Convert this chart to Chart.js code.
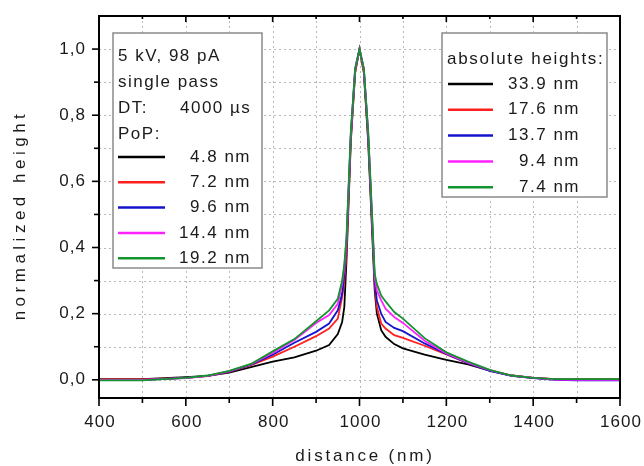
<!DOCTYPE html>
<html>
<head>
<meta charset="utf-8">
<script src="https://cdn.jsdelivr.net/npm/chart.js@4"></script>
<style>
  html, body { margin: 0; padding: 0; background: #fff; }
  #c { display: block; }
</style>
</head>
<body>
<canvas id="c" width="644" height="466"></canvas>
<script>
// distance axis (nm) shared by all profiles
const distanceNm = [400, 500, 600, 650, 700, 750, 800, 850, 900, 930, 950, 960, 965, 970, 980, 990, 1000,
  1010, 1020, 1030, 1035, 1040, 1050, 1060, 1080, 1100, 1150, 1200, 1250, 1300, 1350, 1400, 1450, 1500, 1600];

// normalized height per point-of-pitch
const pop48 = [0.002, 0.002, 0.008, 0.012, 0.022, 0.038, 0.055, 0.068, 0.088, 0.105, 0.138, 0.175, 0.22, 0.36, 0.72, 0.93, 1.0,
  0.93, 0.72, 0.42, 0.27, 0.2, 0.15, 0.13, 0.108, 0.095, 0.076, 0.06, 0.047, 0.028, 0.013, 0.006, 0.002, 0.001, 0.001];
const pop72 = [0.001, 0.001, 0.006, 0.011, 0.024, 0.044, 0.07, 0.1, 0.132, 0.155, 0.185, 0.25, 0.3, 0.38, 0.73, 0.93, 1.0,
  0.93, 0.73, 0.44, 0.29, 0.22, 0.17, 0.155, 0.135, 0.127, 0.103, 0.077, 0.05, 0.028, 0.013, 0.006, 0.002, 0.001, 0.001];
const pop96 = [0.0, 0.0, 0.006, 0.012, 0.025, 0.046, 0.076, 0.112, 0.145, 0.17, 0.21, 0.26, 0.32, 0.41, 0.74, 0.94, 1.0,
  0.94, 0.74, 0.45, 0.3, 0.24, 0.2, 0.175, 0.157, 0.147, 0.11, 0.078, 0.05, 0.027, 0.012, 0.005, 0.0, -0.002, -0.002];
const pop144 = [0.0, 0.0, 0.005, 0.012, 0.026, 0.047, 0.081, 0.12, 0.172, 0.196, 0.23, 0.29, 0.34, 0.42, 0.74, 0.94, 1.0,
  0.94, 0.75, 0.46, 0.31, 0.27, 0.24, 0.215, 0.19, 0.172, 0.118, 0.08, 0.052, 0.029, 0.013, 0.006, 0.001, 0.0, 0.0];
const pop192 = [-0.002, -0.002, 0.006, 0.013, 0.027, 0.048, 0.086, 0.123, 0.177, 0.21, 0.245, 0.3, 0.35, 0.43, 0.75, 0.94, 1.0,
  0.94, 0.75, 0.47, 0.32, 0.29, 0.255, 0.237, 0.205, 0.185, 0.126, 0.083, 0.055, 0.03, 0.013, 0.006, 0.002, 0.002, 0.002];

const popLabels = ['4.8 nm', '7.2 nm', '9.6 nm', '14.4 nm', '19.2 nm'];
const heightLabels = ['33.9 nm', '17.6 nm', '13.7 nm', '9.4 nm', '7.4 nm'];
const infoLines = ['5 kV, 98 pA', 'single pass', 'DT:', 'PoP:'];

const xTicks = [400, 500, 600, 700, 800, 900, 1000, 1100, 1200, 1300, 1400, 1500, 1600];
const xTickLabels = ['400', '', '600', '', '800', '', '1000', '', '1200', '', '1400', '', '1600'];
const yTicks = [0, 0.1, 0.2, 0.3, 0.4, 0.5, 0.6, 0.7, 0.8, 0.9, 1.0];
const yTickLabels = ['0,0', '', '0,2', '', '0,4', '', '0,6', '', '0,8', '', '1,0'];

const colors = ['#000000', '#ff1f1f', '#1414cc', '#ff22ff', '#12942e'];
const allSeries = [pop48, pop72, pop96, pop144, pop192];

const FONT = '"Liberation Sans", Arial, sans-serif';

function text(ctx, str, x, y, size, spacing, align) {
  ctx.font = size + 'px ' + FONT;
  ctx.letterSpacing = spacing + 'px';
  ctx.textAlign = align || 'left';
  ctx.textBaseline = 'middle';
  ctx.fillStyle = '#1a1a1a';
  ctx.fillText(str, x, y);
  ctx.letterSpacing = '0px';
}

function legendBox(ctx, x0, y0, x1, y1) {
  ctx.fillStyle = '#fff';
  ctx.fillRect(x0, y0, x1 - x0, y1 - y0);
  ctx.strokeStyle = '#8a8a8a';
  ctx.lineWidth = 1.5;
  ctx.strokeRect(x0, y0, x1 - x0, y1 - y0);
}

function sample(ctx, x0, x1, y, color) {
  ctx.strokeStyle = color;
  ctx.lineWidth = 2.5;
  ctx.beginPath();
  ctx.moveTo(x0, y);
  ctx.lineTo(x1, y);
  ctx.stroke();
}

const originFrame = {
  id: 'originFrame',
  beforeDatasetsDraw(chart) {
    const { ctx, chartArea: a, scales } = chart;
    ctx.save();
    ctx.strokeStyle = '#b8b8b8';
    ctx.lineWidth = 1;
    ctx.setLineDash([2, 3]);
    xTicks.slice(1, -1).forEach(v => {
      const px = Math.round(scales.x.getPixelForValue(v)) + 0.5;
      ctx.beginPath(); ctx.moveTo(px, a.top); ctx.lineTo(px, a.bottom); ctx.stroke();
    });
    yTicks.forEach(v => {
      const py = Math.round(scales.y.getPixelForValue(v)) + 0.5;
      ctx.beginPath(); ctx.moveTo(a.left, py); ctx.lineTo(a.right, py); ctx.stroke();
    });
    ctx.restore();
  },
  afterDatasetsDraw(chart) {
    const { ctx, chartArea: a, scales } = chart;
    ctx.save();

    // left legend
    legendBox(ctx, 113, 33, 262, 268);
    text(ctx, infoLines[0], 118, 56, 17, 1.5);
    text(ctx, infoLines[1], 118, 82, 17, 1.5);
    text(ctx, infoLines[2], 118, 108, 17, 1.5);
    text(ctx, '4000 \u00b5s', 180, 108, 17, 1.5);
    text(ctx, infoLines[3], 118, 134, 17, 1.5);
    popLabels.forEach((lab, i) => {
      const y = 157 + i * 25.3;
      sample(ctx, 118, 165, y, colors[i]);
      text(ctx, lab, 251, y, 17, 1.5, 'right');
    });

    // right legend
    legendBox(ctx, 442, 33, 607, 197);
    text(ctx, 'absolute heights:', 447, 59, 17, 1.7);
    heightLabels.forEach((lab, i) => {
      const y = 84 + i * 25.8;
      sample(ctx, 448, 493, y, colors[i]);
      text(ctx, lab, 580, y, 17, 1.5, 'right');
    });

    // frame
    ctx.strokeStyle = '#000';
    ctx.lineWidth = 2;
    ctx.strokeRect(a.left, a.top, a.right - a.left, a.bottom - a.top);

    // ticks
    ctx.lineWidth = 1.6;
    xTicks.forEach((v, i) => {
      const px = scales.x.getPixelForValue(v);
      const major = xTickLabels[i] !== '';
      ctx.beginPath();
      ctx.moveTo(px, a.bottom); ctx.lineTo(px, a.bottom + (major ? 8 : 5));
      ctx.moveTo(px, a.top); ctx.lineTo(px, a.top + (major ? 6 : 3));
      ctx.stroke();
      if (major) text(ctx, xTickLabels[i], px + 1, 422, 17, 1, 'center');
    });
    yTicks.forEach((v, i) => {
      const py = scales.y.getPixelForValue(v);
      const major = yTickLabels[i] !== '';
      ctx.beginPath();
      ctx.moveTo(a.left, py); ctx.lineTo(a.left - (major ? 7 : 5), py);
      ctx.stroke();
      if (major) text(ctx, yTickLabels[i], 86, py, 17, 1, 'right');
    });

    // axis titles
    text(ctx, 'distance (nm)', 365, 456, 17, 2.8, 'center');
    ctx.save();
    ctx.translate(20, 215);
    ctx.rotate(-Math.PI / 2);
    text(ctx, 'normalized height', 0, 0, 17, 4.5, 'center');
    ctx.restore();

    ctx.restore();
  }
};

new Chart(document.getElementById('c'), {
  type: 'line',
  data: {
    datasets: allSeries.map((ys, i) => ({
      label: popLabels[i],
      data: distanceNm.map((x, j) => ({ x: x, y: ys[j] })),
      borderColor: colors[i],
      borderWidth: 1.8,
      pointRadius: 0,
      tension: 0,
      fill: false,
      order: allSeries.length - i
    }))
  },
  options: {
    responsive: false,
    animation: false,
    devicePixelRatio: 1,
    layout: { padding: { left: 99, right: 24, top: 16, bottom: 68 } },
    plugins: { legend: { display: false }, tooltip: { enabled: false } },
    scales: {
      x: { type: 'linear', min: 400, max: 1600, display: false },
      y: { min: -0.055, max: 1.1, display: false }
    }
  },
  plugins: [originFrame]
});
</script>
</body>
</html>
